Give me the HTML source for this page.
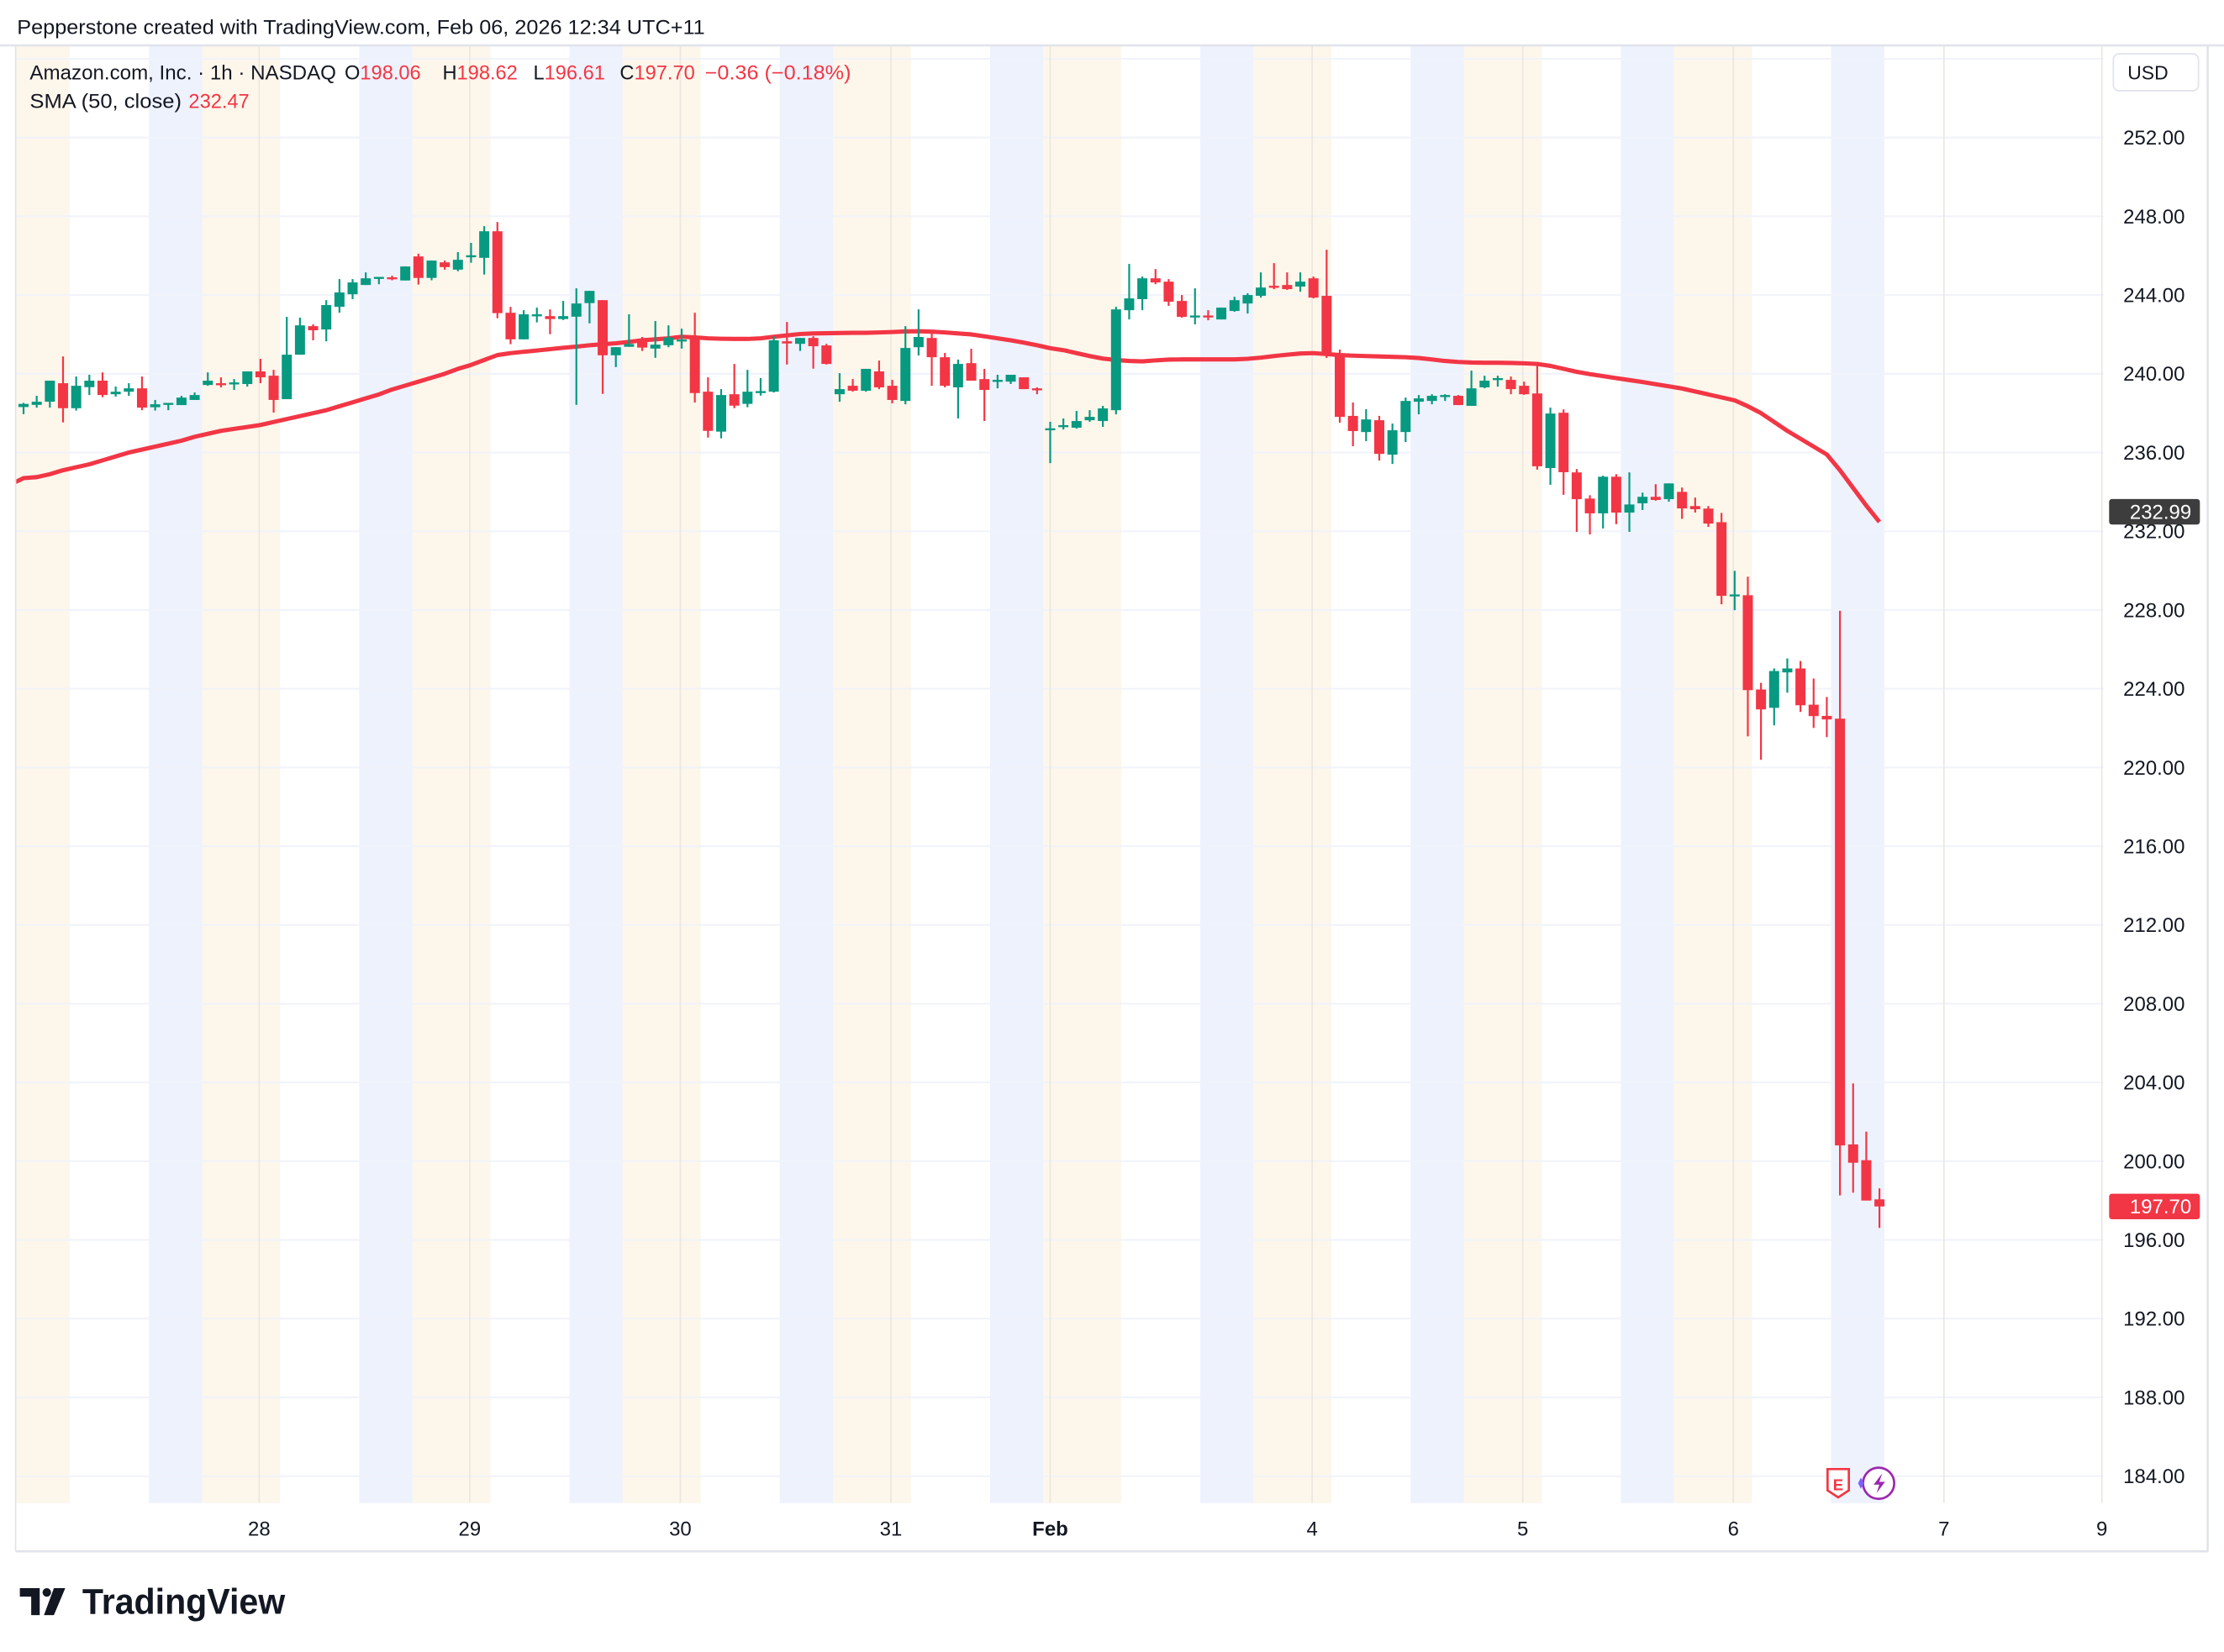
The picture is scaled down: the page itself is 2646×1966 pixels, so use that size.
<!DOCTYPE html>
<html><head><meta charset="utf-8"><style>
html,body{margin:0;padding:0;background:#fff;}
svg{display:block;font-family:"Liberation Sans",Arial,sans-serif;}
</style></head><body>
<svg id="chart" width="2646" height="1966" viewBox="0 0 1568 1165" preserveAspectRatio="none" xmlns="http://www.w3.org/2000/svg">
<rect x="0" y="0" width="1568" height="1165" fill="#ffffff"/>
<text x="12" y="24" font-size="14.2" textLength="485" lengthAdjust="spacingAndGlyphs" fill="#131722">Pepperstone created with TradingView.com, Feb 06, 2026 12:34 UTC+11</text>
<g id="bands"></g>
<g id="grid"></g>
<g id="sma"></g>
<g id="candles"></g>
<g id="axes"></g>
<g font-size="14">
<text x="21" y="56" fill="#131722"><tspan textLength="216" lengthAdjust="spacingAndGlyphs">Amazon.com, Inc. · 1h · NASDAQ</tspan><tspan x="243">O</tspan><tspan fill="#f23645">198.06</tspan><tspan x="312">H</tspan><tspan fill="#f23645">198.62</tspan><tspan x="376">L</tspan><tspan fill="#f23645">196.61</tspan><tspan x="437">C</tspan><tspan fill="#f23645">197.70</tspan><tspan x="497" fill="#f23645" textLength="103" lengthAdjust="spacingAndGlyphs">−0.36 (−0.18%)</tspan></text>
<text x="21" y="76" fill="#131722"><tspan textLength="107" lengthAdjust="spacingAndGlyphs">SMA (50, close)</tspan><tspan x="133" fill="#f23645">232.47</tspan></text>
</g>
<g>
<rect x="1490" y="38" width="60" height="26" rx="4" fill="#fff" stroke="#e0e3eb"/>
<text x="1500" y="56" font-size="13.6" fill="#131722">USD</text>
</g>
<g>
<path d="M1288.5,1036 h15 v15 l-7.5,5 l-7.5,-5 z" fill="#fff" stroke="#f23645" stroke-width="1.6"/>
<text x="1296" y="1051" font-size="11" font-weight="bold" fill="#f23645" text-anchor="middle">E</text>
</g>
<g>
<circle cx="1324.5" cy="1046" r="11" fill="#fff" stroke="#9c27b0" stroke-width="1.6"/>
<path d="M1327,1039 l-6,8 h4 l-2,6 l6,-8 h-4 z" fill="#9c27b0"/>
<path d="M1314,1046 l-2,-4 l-2,4 l2,4 z" fill="#7b61ff"/>
</g>
<g>
<path d="M14,1120 h14 v19 h-6 v-13 h-8 z" fill="#131722"/>
<circle cx="33" cy="1123" r="3" fill="#131722"/>
<path d="M38,1120 h8 l-8,19 h-7 z" fill="#131722"/>
<text x="58" y="1138" font-size="25" font-weight="bold" textLength="143" lengthAdjust="spacingAndGlyphs" fill="#131722">TradingView</text>
</g>
</svg>
<script>
const opens=[238.31,238.42,238.58,239.52,238.25,239.32,239.65,238.96,239.09,239.26,238.30,238.49,238.41,238.67,239.43,239.52,239.52,239.48,240.12,239.90,238.71,240.97,242.42,242.25,243.40,244.04,244.51,244.90,244.90,244.74,245.96,244.87,245.66,245.29,245.96,245.89,247.24,243.10,241.75,242.96,242.93,242.78,242.90,243.59,243.74,240.94,241.37,241.70,241.28,241.45,241.68,241.84,239.09,237.06,238.96,238.47,239.06,239.09,241.65,241.52,241.82,241.44,238.96,239.39,239.14,240.12,239.39,238.62,241.35,241.82,240.84,239.31,240.54,239.73,239.63,239.60,239.82,239.26,237.17,237.33,237.26,237.64,237.60,238.15,243.23,243.79,244.85,244.68,243.70,242.90,242.96,242.76,243.19,243.57,243.96,244.47,244.51,244.43,244.85,243.96,240.94,237.86,237.04,237.64,235.89,237.04,238.58,238.62,238.87,238.88,238.37,239.31,239.72,239.69,239.39,239.00,235.21,238.02,234.99,233.66,232.91,234.77,232.95,233.42,233.75,233.63,234.00,233.28,233.15,232.46,228.72,228.75,223.96,223.03,224.83,225.03,223.19,222.62,222.48,200.85,200.05,198.06];
const highs=[238.52,238.88,239.65,240.88,239.86,239.95,240.07,239.35,239.52,239.86,238.67,238.52,238.88,239.05,240.07,239.82,239.73,240.12,240.76,240.20,242.89,242.85,242.51,243.74,244.81,244.81,245.15,244.92,244.98,245.45,246.10,245.75,245.75,246.18,246.65,247.50,247.71,243.40,243.23,243.36,243.27,243.70,244.34,244.21,243.74,241.35,243.02,241.87,242.68,242.46,242.29,243.10,239.82,239.22,240.50,240.20,239.78,241.91,242.63,241.82,241.91,241.52,240.03,239.73,240.25,240.67,239.69,242.42,243.27,242.04,241.06,240.72,241.27,240.25,239.95,239.95,239.82,239.31,237.56,237.73,238.11,238.15,238.37,243.40,245.58,244.94,245.32,244.81,244.00,244.34,243.23,243.36,243.91,244.09,245.15,245.62,245.15,245.15,244.94,246.30,241.23,238.54,238.20,237.86,237.47,238.79,238.92,238.96,238.96,238.92,240.16,239.90,239.90,239.86,239.60,240.46,238.28,238.19,235.16,233.83,234.82,234.90,234.99,233.96,234.39,234.43,234.22,233.71,233.28,232.93,229.99,229.69,224.30,225.03,225.54,225.41,224.52,223.58,227.96,203.95,201.50,198.62];
const lows=[237.95,238.28,238.28,237.53,238.13,238.92,238.81,238.84,238.88,238.15,238.13,238.15,238.41,238.67,239.39,239.31,239.18,239.35,239.52,238.03,238.71,240.97,241.70,241.65,243.10,243.79,244.51,244.55,244.75,244.74,244.53,244.75,245.29,245.21,245.64,245.04,242.82,241.50,241.75,242.61,242.01,242.73,238.42,242.56,238.98,240.34,241.37,241.16,240.81,241.35,241.28,238.54,236.76,236.72,238.25,238.30,238.89,239.05,240.47,241.16,240.26,240.47,238.58,239.09,239.09,239.22,238.50,238.45,240.93,239.39,239.31,237.73,239.65,237.60,239.26,239.48,239.22,238.96,235.46,237.17,237.21,237.56,237.30,237.94,242.76,243.23,244.55,243.45,242.85,242.51,242.72,242.76,243.15,243.06,243.87,244.30,244.26,244.17,243.83,240.80,237.51,236.32,236.58,235.59,235.42,236.53,237.94,238.45,238.62,238.41,238.37,239.26,239.35,238.96,238.93,235.13,234.36,233.85,231.97,231.84,232.14,232.36,231.97,233.08,233.55,233.50,232.63,232.95,232.22,228.29,227.99,221.58,220.39,222.14,223.80,222.82,222.01,221.54,198.26,198.40,198.10,196.61];
const closes=[238.47,238.58,239.65,238.25,239.39,239.65,238.92,239.09,239.26,238.28,238.45,238.52,238.79,238.92,239.65,239.45,239.56,240.12,239.82,238.67,240.97,242.46,242.21,243.49,244.13,244.64,244.85,244.92,244.80,245.45,244.87,245.75,245.42,245.79,246.02,247.24,243.08,241.75,243.02,243.02,242.78,242.93,243.57,244.21,240.94,241.35,241.51,241.33,241.48,241.84,241.74,239.02,237.10,238.92,238.38,239.09,239.12,241.70,241.54,241.82,241.40,240.50,239.22,239.14,240.25,239.31,238.67,241.31,241.87,240.84,239.39,240.50,239.65,239.18,239.69,239.95,239.22,239.16,237.23,237.39,237.60,237.81,238.24,243.27,243.83,244.85,244.64,243.66,242.89,242.96,242.90,243.36,243.74,244.00,244.38,244.38,244.30,244.68,243.87,240.94,237.81,237.09,237.68,235.93,237.13,238.62,238.75,238.88,238.92,238.41,239.26,239.65,239.78,239.22,238.96,235.30,237.98,235.00,233.63,232.91,234.77,232.95,233.36,233.75,233.59,234.43,233.16,233.12,232.39,228.72,228.79,223.93,222.95,224.90,225.03,223.16,222.61,222.44,200.80,199.92,198.00,197.70];
const smaValues=[234.70,234.75,234.90,235.10,235.25,235.40,235.60,235.80,236.00,236.15,236.30,236.45,236.60,236.80,236.95,237.10,237.20,237.30,237.40,237.55,237.70,237.85,238.00,238.15,238.35,238.55,238.75,238.95,239.20,239.40,239.60,239.80,240.00,240.25,240.45,240.70,240.95,241.05,241.12,241.18,241.25,241.32,241.38,241.45,241.50,241.55,241.62,241.70,241.75,241.80,241.88,241.85,241.80,241.78,241.77,241.77,241.80,241.88,241.95,242.02,242.05,242.06,242.07,242.08,242.08,242.10,242.12,242.15,242.16,242.14,242.10,242.05,242.00,241.90,241.80,241.70,241.58,241.45,241.30,241.20,241.05,240.90,240.77,240.70,240.65,240.63,240.68,240.72,240.73,240.73,240.73,240.73,240.73,240.76,240.82,240.90,240.97,241.03,241.05,241.00,240.95,240.92,240.90,240.88,240.86,240.84,240.80,240.73,240.65,240.60,240.57,240.56,240.56,240.55,240.53,240.50,240.40,240.25,240.10,239.98,239.88,239.78,239.68,239.58,239.47,239.36,239.25,239.10,238.95,238.80,238.65,238.35,238.00,237.55,237.10,236.70,236.30,235.90,235.10,234.20,233.30,232.47];
const smaLeftEdge=234.50;
const priceTicks=[252,248,244,240,236,232,228,224,220,216,212,208,204,200,196,192,188,184];
const dayLabels=["28","29","30","31","Feb","4","5","6","7","9"];
const dayLabelBars=[17.9,33.9,49.9,65.9,78,97.9,113.9,129.9,145.9,157.9];
const lastPrice=197.70;
const smaLastTag=232.99;

const NS="http://www.w3.org/2000/svg";
const PL=11,PR=1483,PT=32,PB=1060;
const X0=16.6,BAR=9.28;
function xScale(i){return X0+i*BAR;}
function yScale(p){return 97+(252-p)*13.882;}
function mk(tag,attrs,parent){const e=document.createElementNS(NS,tag);for(const k in attrs)e.setAttribute(k,attrs[k]);parent.appendChild(e);return e;}

const bands=document.getElementById('bands');
for(let d=-1;d<9;d++){
  const bStart=105+d*148.25;
  const oStart=bStart+37.5;
  if(bStart+37>PL && bStart<PR){
    const r=mk('rect',{x:Math.max(PL,bStart),y:PT,width:Math.min(bStart+37.5,PR)-Math.max(PL,bStart),height:PB-PT,fill:'#eef2fd'},bands);
    
    
  }
  if(oStart+55>PL && oStart<PR && d<8){
    const r=mk('rect',{x:Math.max(PL,oStart),y:PT,width:Math.min(oStart+55,PR)-Math.max(PL,oStart),height:PB-PT,fill:'#fdf6eb'},bands);
    
    
  }
}
const grid=document.getElementById('grid');
priceTicks.forEach(p=>{
  const l=mk('line',{x1:PL,x2:PR,y1:yScale(p),y2:yScale(p),stroke:'#f0f3fa','stroke-width':1.2},grid);
  
  
});
mk('line',{x1:PL,x2:PR,y1:yScale(256),y2:yScale(256),stroke:'#f0f3fa','stroke-width':1.2},grid);
dayLabelBars.forEach(b=>{
  const x=xScale(b);
  const l=mk('line',{x1:x,x2:x,y1:PT,y2:PB,stroke:'#ebe7e0','stroke-width':1},grid);
  
  
});
const smaG=document.getElementById('sma');
let d='M'+PL+','+yScale(smaLeftEdge);
smaValues.forEach((v,i)=>{d+=' L'+xScale(i).toFixed(2)+','+yScale(v).toFixed(2);});
const smaPath=mk('path',{d:d,fill:'none',stroke:'#f23645','stroke-width':3,'stroke-linejoin':'round','stroke-linecap':'butt'},smaG);


const cg=document.getElementById('candles');
opens.forEach((o,i)=>{
  const c=closes[i],h=highs[i],l=lows[i];
  const col=c>=o?'#089981':'#f23645';
  const x=xScale(i);
  const g=mk('g',{},cg);
  
  
  mk('rect',{x:x-0.65,y:yScale(h),width:1.3,height:Math.max(0.8,yScale(l)-yScale(h)),fill:col},g);
  const top=yScale(Math.max(o,c)),bot=yScale(Math.min(o,c));
  mk('rect',{x:x-3.55,y:top,width:7.1,height:Math.max(1.4,bot-top),fill:col},g);
});
const ax=document.getElementById('axes');
mk('line',{x1:0,x2:1568,y1:PT,y2:PT,stroke:'#e0e3eb','stroke-width':1.5},ax);
mk('line',{x1:PL,x2:PL,y1:PT,y2:1094,stroke:'#e0e3eb','stroke-width':1},ax);
mk('line',{x1:1556.5,x2:1556.5,y1:PT,y2:1094,stroke:'#e0e3eb','stroke-width':1.5},ax);
mk('line',{x1:PL,x2:1557,y1:1094,y2:1094,stroke:'#e0e3eb','stroke-width':1.5},ax);
priceTicks.forEach(p=>{
  const t=mk('text',{x:1497,y:yScale(p)+5,'font-size':14.2,fill:'#131722'},ax);
  t.textContent=p.toFixed(2);
  
  
});
dayLabels.forEach((s,k)=>{
  const t=mk('text',{x:xScale(dayLabelBars[k]),y:1083,'font-size':14.2,fill:'#131722','text-anchor':'middle','font-weight':s==='Feb'?'bold':'normal'},ax);
  t.textContent=s;
  
  
});
function tag(v,fill,name){
  const y=yScale(v);
  const g=mk('g',{},ax);
  
  
  mk('rect',{x:1487,y:y-9,width:64,height:18,rx:2,fill:fill},g);
  const t=mk('text',{x:1545,y:y+5,'font-size':14.2,fill:'#ffffff','text-anchor':'end'},g);
  t.textContent=v.toFixed(2);
}
tag(smaLastTag,'#3d3d3d','sma-price-tag');
tag(lastPrice,'#f23645','last-price-tag');
</script>
</body></html>
